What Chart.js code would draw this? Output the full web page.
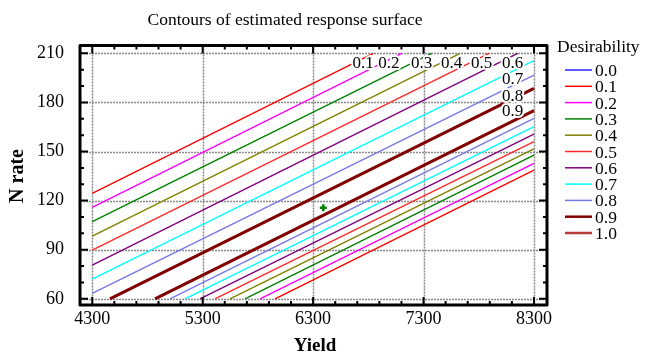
<!DOCTYPE html>
<html>
<head>
<meta charset="utf-8">
<script src="https://cdn.jsdelivr.net/npm/chart.js@4.4.1/dist/chart.umd.min.js"></script>
<style>
    html, body { margin: 0; padding: 0; background: #fff; }
</style>
</head>
<body>
<canvas id="contourChart" width="650" height="354"></canvas>
<script>
// Contour levels on the upper-left side of the ridge
const upperLevels = ['0.1', '0.2', '0.3', '0.4', '0.5', '0.6', '0.7', '0.8', '0.9'];
const upperStartX = [4300, 4300, 4300, 4300, 4300, 4300, 4300, 4300, 4460];
const upperStartY = [124.4, 115.9, 107.1, 98.3, 89.8, 80.6, 72.0, 63.3, 60];
const upperEndX = [6845, 7102, 7374, 7631, 7893, 8153, 8300, 8300, 8300];
const upperEndY = [210, 210, 210, 210, 210, 210, 205.5, 196.7, 188.6];

// Contour levels on the lower-right side of the ridge
const lowerLevels = ['0.9', '0.8', '0.7', '0.6', '0.5', '0.4', '0.3', '0.2', '0.1'];
const lowerStartX = [4868, 5004, 5140, 5275, 5411, 5547, 5683, 5819, 5955];
const lowerStartY = [60, 60, 60, 60, 60, 60, 60, 60, 60];
const lowerEndX = [8300, 8300, 8300, 8300, 8300, 8300, 8300, 8300, 8300];
const lowerEndY = [175, 170.3, 165.2, 160.7, 156, 151.6, 147.8, 142.8, 138.7];

// Contour labels (data coordinates)
const labelText = ['0.1', '0.2', '0.3', '0.4', '0.5', '0.6', '0.7', '0.8', '0.9'];
const labelX = [6752, 6985, 7282, 7555, 7827, 8106, 8106, 8106, 8106];
const labelY = [203.5, 203.5, 203.5, 203.5, 203.5, 203.5, 194.3, 183.6, 174.4];

// Estimated optimum
const optimumX = [6392];
const optimumY = [115.6];

const legendLevels = ['0.0', '0.1', '0.2', '0.3', '0.4', '0.5', '0.6', '0.7', '0.8', '0.9', '1.0'];
const xTicks = [4300, 5300, 6300, 7300, 8300];
const yTicks = [60, 90, 120, 150, 180, 210];

const levelColors = {
    '0.0': '#2424ff', '0.1': '#ff0000', '0.2': '#ff00ff', '0.3': '#008000',
    '0.4': '#808000', '0.5': '#ff2a2a', '0.6': '#800080', '0.7': '#00ffff',
    '0.8': '#7878e8', '0.9': '#800000', '1.0': '#b83c3c'
};
const SERIF = "'Liberation Serif', 'Times New Roman', serif";

function contourDataset(level, x0, y0, x1, y1) {
    return {
        label: level,
        data: [{ x: x0, y: y0 }, { x: x1, y: y1 }],
        showLine: true,
        borderColor: levelColors[level],
        borderWidth: level === '0.9' ? 3 : 1.4,
        pointRadius: 0,
        fill: false
    };
}

const datasets = [];
upperLevels.forEach((lv, i) => datasets.push(contourDataset(lv, upperStartX[i], upperStartY[i], upperEndX[i], upperEndY[i])));
lowerLevels.forEach((lv, i) => datasets.push(contourDataset(lv, lowerStartX[i], lowerStartY[i], lowerEndX[i], lowerEndY[i])));
datasets.push({
    label: 'optimum',
    data: optimumX.map((x, i) => ({ x: x, y: optimumY[i] })),
    showLine: false,
    pointStyle: 'cross',
    pointRadius: 3.5,
    borderWidth: 2.5,
    borderColor: '#008000'
});

const contourDecor = {
    id: 'contourDecor',
    beforeDatasetsDraw(chart) {
        const { ctx, chartArea: a, scales: { x, y } } = chart;
        ctx.save();
        ctx.strokeStyle = '#8a8a8a';
        ctx.lineWidth = 1.5;
        ctx.setLineDash([2, 1]);
        xTicks.forEach(v => {
            const px = Math.round(x.getPixelForValue(v)) + 0.5;
            ctx.beginPath(); ctx.moveTo(px, a.top); ctx.lineTo(px, a.bottom); ctx.stroke();
        });
        yTicks.forEach(v => {
            const py = Math.round(y.getPixelForValue(v)) + 0.5;
            ctx.beginPath(); ctx.moveTo(a.left, py); ctx.lineTo(a.right, py); ctx.stroke();
        });
        ctx.restore();
    },
    afterDatasetsDraw(chart) {
        const { ctx, chartArea: a, scales: { x, y } } = chart;
        ctx.save();
        // contour labels
        ctx.font = '17px ' + SERIF;
        ctx.textAlign = 'center';
        ctx.textBaseline = 'middle';
        ctx.lineJoin = 'round';
        labelText.forEach((t, i) => {
            const px = x.getPixelForValue(labelX[i]);
            const py = y.getPixelForValue(labelY[i]);
            ctx.strokeStyle = '#fff';
            ctx.lineWidth = 4;
            ctx.strokeText(t, px, py);
        });
        ctx.fillStyle = '#000';
        labelText.forEach((t, i) => {
            ctx.fillText(t, x.getPixelForValue(labelX[i]), y.getPixelForValue(labelY[i]));
        });

        // frame
        ctx.strokeStyle = '#000';
        ctx.lineWidth = 3;
        ctx.strokeRect(a.left, a.top, a.right - a.left, a.bottom - a.top);

        // tick marks, pointing inwards on all four sides
        ctx.lineWidth = 2;
        for (let v = 4300; v <= 8300; v += 200) {
            const px = x.getPixelForValue(v);
            const len = xTicks.includes(v) ? 8 : 4;
            ctx.beginPath();
            ctx.moveTo(px, a.bottom); ctx.lineTo(px, a.bottom - len);
            ctx.moveTo(px, a.top); ctx.lineTo(px, a.top + len);
            ctx.stroke();
        }
        for (let v = 60; v <= 210; v += 10) {
            const py = y.getPixelForValue(v);
            const len = yTicks.includes(v) ? 8 : 4;
            ctx.beginPath();
            ctx.moveTo(a.left, py); ctx.lineTo(a.left + len, py);
            ctx.moveTo(a.right, py); ctx.lineTo(a.right - len, py);
            ctx.stroke();
        }
        ctx.restore();
    },
    afterDraw(chart) {
        const { ctx } = chart;
        ctx.save();
        ctx.fillStyle = '#000';
        ctx.textBaseline = 'middle';

        // title
        ctx.font = '17.5px ' + SERIF;
        ctx.textAlign = 'center';
        ctx.fillText('Contours of estimated response surface', 285, 20);

        // axis titles
        ctx.font = 'bold 19px ' + SERIF;
        ctx.fillText('Yield', 315, 346);
        ctx.save();
        ctx.translate(18, 176);
        ctx.rotate(-Math.PI / 2);
        ctx.font = 'bold 20px ' + SERIF;
        ctx.fillText('N rate', 0, 0);
        ctx.restore();

        // legend
        ctx.textAlign = 'left';
        ctx.font = '17.5px ' + SERIF;
        ctx.fillText('Desirability', 557, 47);
        legendLevels.forEach((lv, i) => {
            const ry = 70 + i * 16.3;
            ctx.strokeStyle = levelColors[lv];
            ctx.lineWidth = (lv === '0.9' || lv === '1.0') ? 2.5 : 1.5;
            ctx.beginPath(); ctx.moveTo(565, ry); ctx.lineTo(592, ry); ctx.stroke();
            ctx.fillText(lv, 595, ry + 1.5);
        });
        ctx.restore();
    }
};

new Chart(document.getElementById('contourChart'), {
    type: 'scatter',
    data: { datasets: datasets },
    options: {
        responsive: false,
        animation: false,
        layout: { padding: { left: 0, top: 45.5, right: 103, bottom: 0 } },
        plugins: {
            legend: { display: false },
            title: { display: false },
            tooltip: { enabled: false }
        },
        scales: {
            x: {
                type: 'linear',
                min: 4189,
                max: 8418,
                afterBuildTicks: scale => { scale.ticks = xTicks.map(v => ({ value: v })); },
                afterFit: scale => { scale.height = 49; },
                grid: { display: false, drawTicks: false },
                border: { display: false },
                ticks: { color: '#000', font: { family: SERIF, size: 18 }, padding: 3, maxRotation: 0, callback: v => String(v) }
            },
            y: {
                type: 'linear',
                min: 56.2,
                max: 214.8,
                afterBuildTicks: scale => { scale.ticks = yTicks.map(v => ({ value: v })); },
                afterFit: scale => { scale.width = 80; },
                grid: { display: false, drawTicks: false },
                border: { display: false },
                ticks: { color: '#000', font: { family: SERIF, size: 18 }, padding: 16, callback: v => String(v) }
            }
        }
    },
    plugins: [contourDecor]
});
</script>
</body>
</html>
